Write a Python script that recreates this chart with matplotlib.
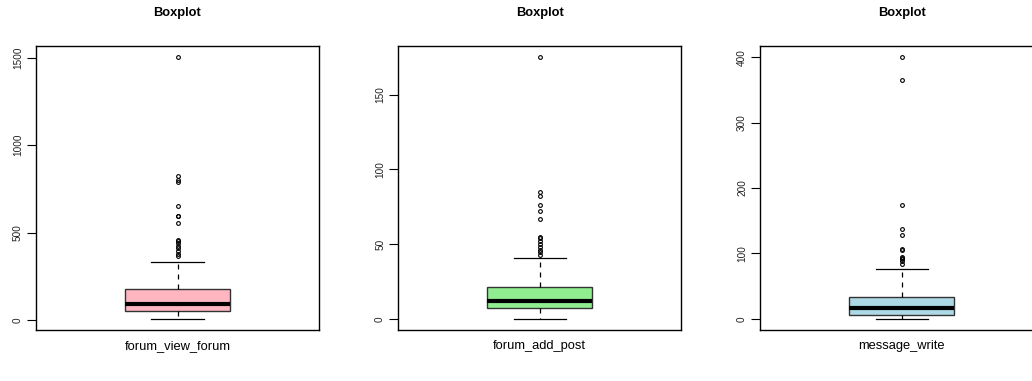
import matplotlib
matplotlib.use("Agg")
import matplotlib.pyplot as plt

plt.rcParams['font.family'] = ['Liberation Sans', 'DejaVu Sans']

# summary stats per variable (q1, median, q3, whiskers) and outliers
names = ['forum_view_forum', 'forum_add_post', 'message_write']
colors = ['#FFB6C1', '#90EE90', '#ADD8E6']
q1 = [51, 7, 5.6]
med = [90, 12, 16]
q3 = [175, 21, 34]
whis_lo = [5, 0, 0]
whis_hi = [330, 41, 76]
outliers = [
    [1502, 825, 800, 790, 653, 597, 592, 553, 460, 450, 440, 425, 410, 395, 380, 365],
    [175, 85, 82, 76, 72, 67, 55, 54, 52, 50, 48, 46, 45, 43],
    [400, 365, 174, 138, 128, 107, 105, 95, 93, 91, 89, 83],
]
yticks = [[0, 500, 1000, 1500], [0, 50, 100, 150], [0, 100, 200, 300, 400]]
ylims = [(-54, 1568), (-7.2, 182.8), (-16.5, 417.8)]

W, H = 1032, 381
fig = plt.figure(figsize=(W / 100, H / 100), dpi=100)

lefts = [36, 398.3, 760.3]
for i in range(3):
    ax = fig.add_axes([lefts[i] / W, 1 - 329.5 / H, 283 / W, 283.8 / H])
    stats = [dict(med=med[i], q1=q1[i], q3=q3[i], whislo=whis_lo[i],
                  whishi=whis_hi[i], fliers=outliers[i], label='')]
    ax.bxp(stats, positions=[1], widths=0.4, capwidths=0.2, patch_artist=True,
           boxprops=dict(facecolor=colors[i], edgecolor='#333333', linewidth=1),
           medianprops=dict(color='black', linewidth=3, solid_capstyle='butt'),
           whiskerprops=dict(color='black', linewidth=0.9, linestyle=(0, (4, 4))),
           capprops=dict(color='black', linewidth=0.9),
           flierprops=dict(marker='o', markersize=2.7, markerfacecolor='none',
                           markeredgecolor='black', markeredgewidth=0.8))
    ax.set_xlim(0.46, 1.54)
    ax.set_ylim(*ylims[i])
    ax.set_xticks([])
    ax.set_yticks(yticks[i])
    ax.set_yticklabels([str(t) for t in yticks[i]], rotation=90, va='center',
                       fontsize=7.2, color='#222222')
    ax.tick_params(axis='y', length=6.5, width=0.8, pad=3)
    for s in ax.spines.values():
        s.set_linewidth(1.0)
    cx = (lefts[i] + 141.5) / W
    fig.text(cx, 1 - 13 / H, 'Boxplot', ha='center', va='center',
             fontsize=9.3, fontweight='bold')
    fig.text(cx, 1 - 346 / H, names[i], ha='center', va='center',
             fontsize=9.3)

fig.savefig('out.png', dpi=100)
